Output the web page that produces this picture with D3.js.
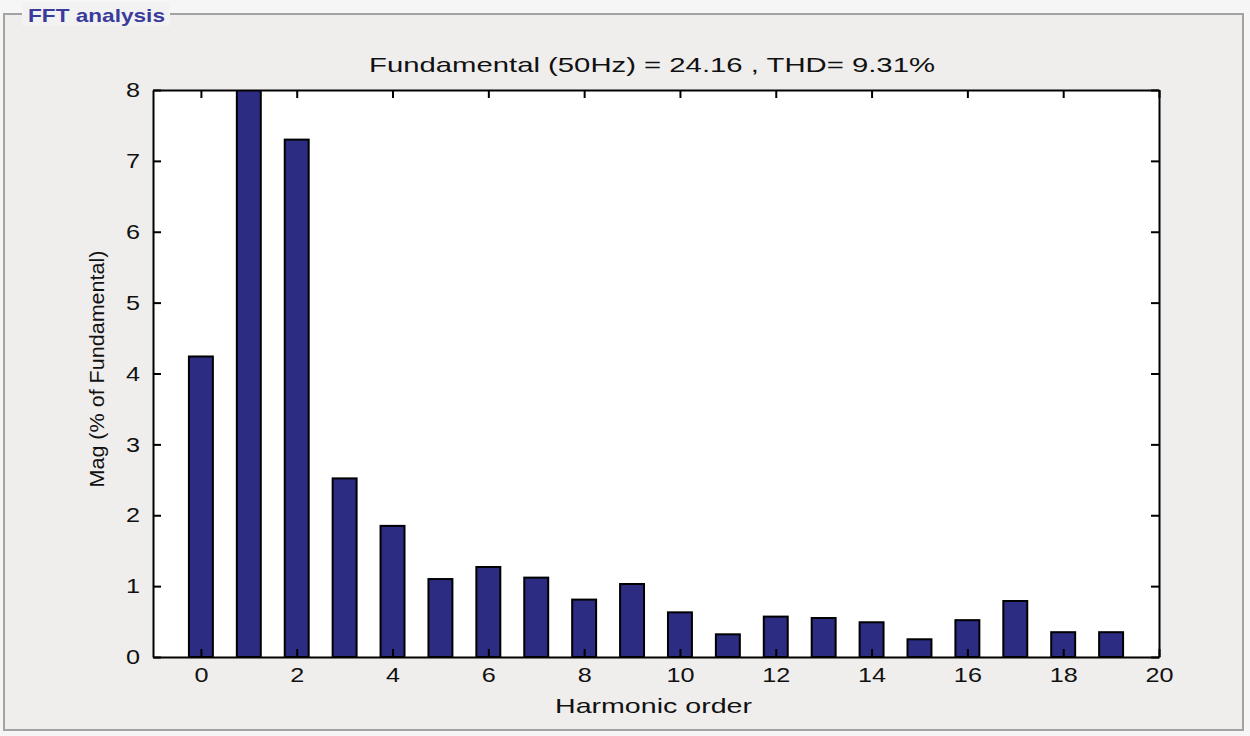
<!DOCTYPE html>
<html>
<head>
<meta charset="utf-8">
<script src="https://cdn.jsdelivr.net/npm/d3@7/dist/d3.min.js"></script>
<style>
  html, body { margin: 0; padding: 0; background: #f6f6f6; }
  svg { display: block; font-family: Arial, "Liberation Sans", sans-serif; }
</style>
</head>
<body>
<svg id="chart" width="1250" height="736"></svg>
<script>
// ---- data ----
const harmonicOrders = [0,1,2,3,4,5,6,7,8,9,10,11,12,13,14,15,16,17,18,19];
const magnitudes = [4.24, 100, 7.30, 2.52, 1.85, 1.10, 1.27, 1.12, 0.81, 1.03, 0.63, 0.32, 0.57, 0.55, 0.49, 0.25, 0.52, 0.79, 0.35, 0.35];
const xTicks = [0,2,4,6,8,10,12,14,16,18,20];
const yTicks = [0,1,2,3,4,5,6,7,8];
const panelTitle = "FFT analysis";
const chartTitle = "Fundamental (50Hz) = 24.16 , THD= 9.31%";
const xLabel = "Harmonic order";
const yLabel = "Mag (% of Fundamental)";

const svg = d3.select("#chart");

// panel (group box)
svg.append("rect").attr("x",0).attr("y",0).attr("width",1250).attr("height",736).attr("fill","#f6f6f6");
svg.append("rect").attr("x",4).attr("y",14).attr("width",1239).attr("height",716)
  .attr("fill","#efeeed").attr("stroke","#a3a3a3").attr("stroke-width",2);
svg.append("rect").attr("x",22).attr("y",2).attr("width",148).attr("height",24).attr("fill","#f2f2f2");
function fit(sel, w){ sel.attr("textLength", w).attr("lengthAdjust","spacingAndGlyphs"); return sel; }
fit(svg.append("text").attr("x",28).attr("y",22).attr("font-size",19).attr("fill","#3b3b9c")
  .attr("font-weight","600").text(panelTitle), 137);

// scales
const L = 153, R = 1159, T = 90, B = 657;
const x = d3.scaleLinear().domain([-1, 20]).range([L, R]);
const y = d3.scaleLinear().domain([0, 8]).range([B, T]);
const barW = x(0.5) - x(0);

// plot background
svg.append("rect").attr("x",L).attr("y",T).attr("width",R-L).attr("height",B-T).attr("fill","#ffffff");

svg.append("clipPath").attr("id","plotclip").append("rect")
  .attr("x",L).attr("y",T).attr("width",R-L).attr("height",B-T);

svg.append("g").attr("clip-path","url(#plotclip)")
  .selectAll("rect").data(harmonicOrders).join("rect")
  .attr("x", d => x(d) - barW/2)
  .attr("width", barW)
  .attr("y", (d,i) => y(magnitudes[i]))
  .attr("height", (d,i) => y(0) - y(magnitudes[i]))
  .attr("fill","#2c2c82").attr("stroke","#000").attr("stroke-width",2);

// axes (inward ticks, box)
const tk = 8;
const gB = svg.append("g").attr("transform",`translate(0,${B})`)
  .call(d3.axisBottom(x).tickValues(xTicks).tickSizeInner(-tk).tickSizeOuter(0).tickPadding(12));
const gT = svg.append("g").attr("transform",`translate(0,${T})`)
  .call(d3.axisTop(x).tickValues(xTicks).tickSizeInner(-tk).tickSizeOuter(0).tickFormat(""));
const gL = svg.append("g").attr("transform",`translate(${L},0)`)
  .call(d3.axisLeft(y).tickValues(yTicks).tickSizeInner(-tk).tickSizeOuter(0).tickPadding(12));
const gR = svg.append("g").attr("transform",`translate(${R},0)`)
  .call(d3.axisRight(y).tickValues(yTicks).tickSizeInner(-tk).tickSizeOuter(0).tickFormat(""));
[gB,gT,gL,gR].forEach(g => {
  g.select(".domain").attr("stroke","#000").attr("stroke-width",2);
  g.selectAll(".tick line").attr("stroke","#000").attr("stroke-width",2);
  g.selectAll(".tick text").attr("font-size",21).attr("fill","#111")
   .attr("font-family","Arial, 'Liberation Sans', sans-serif");
});
gB.selectAll(".tick text").attr("dy","0.6em");
gL.selectAll(".tick text").attr("dx","-1");
// stretch tick labels horizontally a little
gB.selectAll(".tick text").each(function(){ const w=this.getComputedTextLength(); fit(d3.select(this), w*1.2); });
gL.selectAll(".tick text").each(function(){ const w=this.getComputedTextLength(); fit(d3.select(this), w*1.2); });

// titles
fit(svg.append("text").attr("x",652).attr("y",72).attr("text-anchor","middle")
  .attr("font-size",21).attr("fill","#111").text(chartTitle), 566);
fit(svg.append("text").attr("x",653.5).attr("y",713).attr("text-anchor","middle")
  .attr("font-size",21).attr("fill","#111").text(xLabel), 197);
fit(svg.append("text").attr("transform","translate(104,369) rotate(-90)").attr("text-anchor","middle")
  .attr("font-size",20).attr("fill","#111").text(yLabel), 237);
</script>
</body>
</html>
